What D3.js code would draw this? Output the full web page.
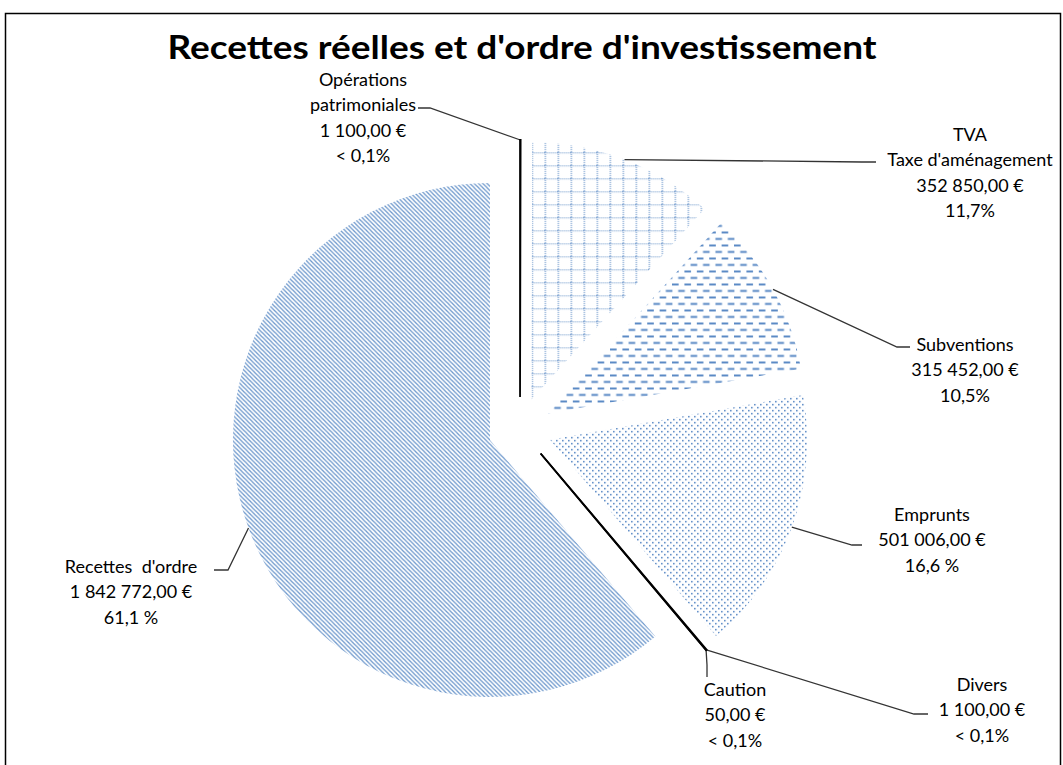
<!DOCTYPE html>
<html>
<head>
<meta charset="utf-8">
<script src="https://cdn.jsdelivr.net/npm/d3@7"></script>
<style>
  body { margin: 0; background: #fff; }
  text { font-family: Lato, "Noto Sans", sans-serif; fill: #000; }
</style>
</head>
<body>
<svg id="chart"></svg>
<script>
// data
const categories = ["Opérations patrimoniales", "TVA Taxe d'aménagement", "Subventions", "Emprunts", "Divers", "Caution", "Recettes d'ordre"];
const labelLines = [["Opérations", "patrimoniales"], ["TVA", "Taxe d'aménagement"], ["Subventions"], ["Emprunts"], ["Divers"], ["Caution"], ["Recettes\u00a0 d'ordre"]];
const values = [1100, 352850, 315452, 501006, 1100, 50, 1842772];
const pctLabels = ["< 0,1%", "11,7%", "10,5%", "16,6 %", "< 0,1%", "< 0,1%", "61,1 %"];
const fills = ["line", "grid", "hdash", "dots", "line", "line", "diag"];

const width = 1063, height = 765;
const cx = 520, cy = 429, radius = 257, explode = 32;
const blue = "#4a7ebf";

// label boxes: center x, first line middle y, leader elbow + end
const labelPos = [
  { x: 363, y: 80, elbow: [430, 108], end: [418, 108] },
  { x: 970, y: 135, elbow: [862, 162], end: [876, 162] },
  { x: 965, y: 345, elbow: [897, 347], end: [910, 347] },
  { x: 932, y: 515, elbow: [852, 545], end: [862, 545] },
  { x: 982, y: 685, elbow: [914, 714], end: [928, 714] },
  { x: 735, y: 690, elbow: [707, 665], end: [707, 677] },
  { x: 131, y: 567, elbow: [228, 570], end: [214, 570] }
];

const frLocale = d3.formatLocale({ decimal: ",", thousands: " ", grouping: [3], currency: ["", " €"] });
const fmtEuro = frLocale.format(",.2f");

const svg = d3.select("#chart")
  .attr("width", width)
  .attr("height", height);

// pattern fills like the excel ones
const defs = svg.append("defs");

const grid = defs.append("pattern").attr("id", "grid")
  .attr("patternUnits", "userSpaceOnUse").attr("width", 13).attr("height", 13);
grid.append("path").attr("d", "M0,0.75H13M0.75,0V13")
  .attr("stroke", blue).attr("stroke-width", 1.2).attr("stroke-opacity", 0.85)
  .attr("stroke-dasharray", "1 1").attr("fill", "none");

const hdash = defs.append("pattern").attr("id", "hdash")
  .attr("patternUnits", "userSpaceOnUse").attr("width", 12.4).attr("height", 13);
hdash.selectAll("rect")
  .data([[0, 0], [6.2, 6.5], [-6.2, 6.5]])
  .enter().append("rect")
  .attr("x", d => d[0]).attr("y", d => d[1])
  .attr("width", 6.6).attr("height", 1.8).attr("fill", blue);

const dots = defs.append("pattern").attr("id", "dots")
  .attr("patternUnits", "userSpaceOnUse").attr("width", 6).attr("height", 6);
dots.selectAll("rect")
  .data([[0, 0], [3, 3]])
  .enter().append("rect")
  .attr("x", d => d[0]).attr("y", d => d[1])
  .attr("width", 1.5).attr("height", 1.5).attr("fill", blue);

const diag = defs.append("pattern").attr("id", "diag")
  .attr("patternUnits", "userSpaceOnUse").attr("width", 4.3).attr("height", 4.3);
diag.append("path").attr("d", "M-1,-1L5.3,5.3M-1,3.3L1,5.3M3.3,-1L5.3,1")
  .attr("stroke", blue).attr("stroke-width", 1.3).attr("stroke-opacity", 0.8);

// frame
svg.append("rect")
  .attr("x", 5.5).attr("y", 13.5)
  .attr("width", 1055).attr("height", 800)
  .attr("fill", "#fff").attr("stroke", "#000").attr("stroke-width", 1.5);

// title
svg.append("text")
  .attr("x", 522).attr("y", 59)
  .attr("text-anchor", "middle")
  .style("font-size", "33px").style("font-weight", "bold")
  .attr("textLength", 709).attr("lengthAdjust", "spacingAndGlyphs")
  .text("Recettes réelles et d'ordre d'investissement");

const pie = d3.pie().sort(null).value(d => d);
const arcs = pie(values);
const arc = d3.arc().innerRadius(0).outerRadius(radius);

function shift(a) {
  const mid = (a.startAngle + a.endAngle) / 2;
  return [cx + Math.sin(mid) * explode, cy - Math.cos(mid) * explode];
}

const slices = svg.append("g").selectAll("path")
  .data(arcs)
  .enter()
  .append("path")
  .attr("transform", d => `translate(${shift(d)})`)
  .attr("d", arc)
  .attr("fill", (d, i) => fills[i] == "line" ? "#000" : `url(#${fills[i]})`)
  .attr("stroke", (d, i) => fills[i] == "line" ? "#000" : "none")
  .attr("stroke-width", (d, i) => fills[i] == "line" ? 1.8 : 0);

// leader lines
svg.append("g").selectAll("polyline")
  .data(arcs)
  .enter()
  .append("polyline")
  .attr("points", (d, i) => {
    const mid = (d.startAngle + d.endAngle) / 2;
    const o = shift(d);
    const start = [o[0] + Math.sin(mid) * radius, o[1] - Math.cos(mid) * radius];
    const p = labelPos[i];
    return [start, p.elbow, p.end].map(q => q.join(",")).join(" ");
  })
  .attr("fill", "none")
  .attr("stroke", "#000")
  .attr("stroke-opacity", 0.8)
  .attr("stroke-width", 1.3);

// labels
const lineH = 25.3;
arcs.forEach((d, i) => {
  const lines = labelLines[i].concat([fmtEuro(values[i]) + " €", pctLabels[i]]);
  const p = labelPos[i];
  svg.append("text")
    .attr("text-anchor", "middle")
    .style("font-size", "18px")
    .selectAll("tspan")
    .data(lines)
    .enter()
    .append("tspan")
    .attr("x", p.x)
    .attr("y", (t, j) => p.y + j * lineH + 6)
    .text(t => t);
});
</script>
</body>
</html>
